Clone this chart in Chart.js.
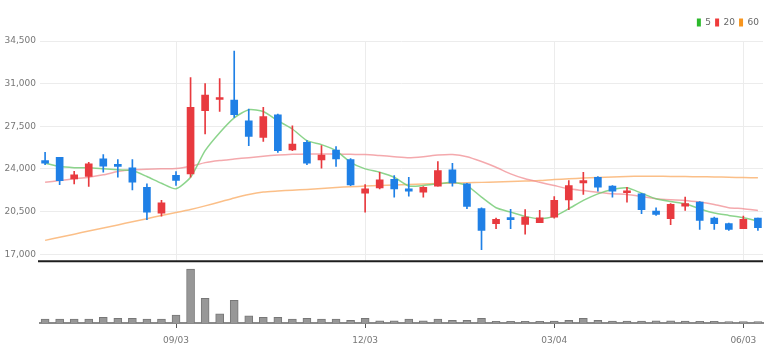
<!DOCTYPE html>
<html>
<head>
<meta charset="utf-8">
<script src="https://cdn.jsdelivr.net/npm/chart.js@4.4.1/dist/chart.umd.min.js"></script>
<style>
  html, body { margin: 0; padding: 0; background: #fff; }
  #wrap { width: 779px; height: 363px; }
</style>
</head>
<body>
<div id="wrap"><canvas id="chart"></canvas></div>
<script>
// WEEKLY CANDLES //
const dates = ['07/02', '07/09', '07/16', '07/23', '07/30', '08/06', '08/13', '08/20', '08/27', '09/03',
  '09/10', '09/17', '09/24', '10/01', '10/08', '10/15', '10/22', '10/29', '11/05', '11/12',
  '11/19', '11/26', '12/03', '12/10', '12/17', '12/24', '12/31', '01/07', '01/14', '01/21',
  '01/28', '02/04', '02/11', '02/18', '02/25', '03/04', '03/11', '03/18', '03/25', '04/01',
  '04/08', '04/15', '04/22', '04/29', '05/06', '05/13', '05/20', '05/27', '06/03', '06/10'];

const opens = [24690, 24960, 23190, 23380, 24830, 24380, 24090, 22500, 20380, 23470,
  23600, 28780, 29700, 29650, 27960, 26590, 28450, 25560, 26180, 24740,
  25560, 24770, 22010, 22450, 23140, 22370, 22100, 22590, 23920, 22780,
  20740, 19510, 19970, 19450, 19590, 20050, 21470, 22860, 23320, 22590,
  22050, 21960, 20540, 19920, 20950, 21280, 19970, 19510, 19100, 19970];
const highs = [25370, 24960, 23810, 24550, 25180, 24770, 24770, 22780, 21420, 23790,
  31500, 31010, 31420, 33680, 28920, 29050, 28500, 27550, 26320, 25910,
  25830, 24850, 22720, 23730, 23460, 23320, 22560, 24610, 24470, 22830,
  20820, 19970, 20680, 20660, 20600, 21740, 23050, 23730, 23370, 22640,
  22500, 22010, 20820, 21150, 21690, 21330, 20050, 19560, 20130, 19970];
const lows = [24360, 22720, 22780, 22560, 23730, 23320, 22290, 19840, 20130, 22640,
  23320, 26870, 28720, 28230, 25910, 26270, 25350, 25500, 24360, 24060,
  24200, 22620, 20460, 22370, 21690, 21770, 21690, 22590, 22590, 20740,
  17380, 19100, 19100, 18640, 19590, 19970, 20660, 21910, 22180, 21690,
  21280, 20330, 20190, 19430, 20600, 19040, 19040, 18960, 19100, 18960];
const closes = [24470, 23050, 23520, 24420, 24220, 24200, 22910, 20460, 21230, 23060,
  29050, 30060, 29820, 28450, 26670, 28290, 25500, 26050, 24470, 25150,
  24830, 22700, 22370, 23110, 22370, 22180, 22500, 23870, 22860, 20930,
  18960, 19860, 19840, 20050, 20000, 21420, 22640, 23050, 22500, 22180,
  22150, 20660, 20270, 21090, 21150, 19780, 19510, 19040, 19860, 19180];
const volumes = [200000, 200000, 200000, 200000, 285000, 235000, 235000, 200000, 200000, 400000,
  2700000, 1235000, 465000, 1135000, 365000, 285000, 285000, 200000, 235000, 200000,
  200000, 135000, 235000, 115000, 115000, 200000, 115000, 200000, 135000, 135000,
  235000, 85000, 85000, 85000, 85000, 100000, 135000, 235000, 135000, 100000,
  100000, 100000, 115000, 115000, 100000, 85000, 85000, 65000, 65000, 65000];

// MOVING AVERAGES //
const ma5 = [24470, 24200, 24110, 24090, 24010, 23930, 23870, 23380, 22830, 22370,
  23320, 25500, 26980, 28200, 28860, 28720, 27960, 27280, 26320, 26000,
  25500, 24550, 24010, 23730, 23320, 22600, 22640, 22780, 22910, 22640,
  21690, 20820, 20460, 20110, 19920, 20110, 20740, 21420, 21960, 22320,
  22450, 22010, 21550, 21330, 21150, 20740, 20380, 20190, 20000, 19720];
const ma20 = [22910, 23050, 23190, 23320, 23520, 23790, 23930, 23980, 24010, 24030,
  24220, 24520, 24690, 24810, 24930, 25050, 25140, 25200, 25230, 25230,
  25230, 25200, 25180, 25100, 25010, 24930, 25010, 25140, 25180, 25010,
  24610, 24140, 23600, 23190, 22910, 22640, 22370, 22230, 22090, 21960,
  21910, 21740, 21550, 21470, 21420, 21280, 21090, 20820, 20740, 20600];
const ma60 = [18140, 18400, 18650, 18910, 19160, 19410, 19670, 19920, 20190, 20430,
  20680, 20970, 21290, 21620, 21910, 22110, 22190, 22260, 22320, 22400,
  22480, 22540, 22600, 22640, 22680, 22720, 22770, 22810, 22830, 22870,
  22900, 22930, 22970, 23010, 23050, 23130, 23190, 23260, 23300, 23350,
  23390, 23400, 23400, 23390, 23380, 23360, 23350, 23320, 23300, 23270];

const priceTicks = [17000, 20500, 24000, 27500, 31000, 34500];
const xTickLabels = ['09/03', '12/03', '03/04', '06/03'];
const maNames = ['5', '20', '60'];

const UP = '#e83a3f';
const DOWN = '#1f80e6';
const FONT = '"DejaVu Sans", sans-serif';
const TICK_FONT = {family: FONT, size: 9, style: 'condensed'};

const candleColors = opens.map((o, i) => (closes[i] >= o) ? UP : DOWN);
const idx = dates.map((d, i) => i);

// PRICE AREA GRID + SEPARATOR //
const panelPlugin = {
  id: 'panels',
  beforeDatasetsDraw(chart) {
    const {ctx, chartArea, scales} = chart;
    ctx.save();
    ctx.strokeStyle = '#ececec';
    ctx.lineWidth = 1;
    scales.x.ticks.forEach(t => {
      const px = Math.round(scales.x.getPixelForValue(t.value)) + 0.5;
      ctx.beginPath();
      ctx.moveTo(px, scales.y.getPixelForValue(priceTicks[priceTicks.length - 1]));
      ctx.lineTo(px, scales.y.bottom);
      ctx.stroke();
    });
    ctx.restore();
  },
  afterDatasetsDraw(chart) {
    const {ctx, chartArea, scales} = chart;
    ctx.save();
    ctx.strokeStyle = '#1e1e1e';
    ctx.lineWidth = 2;
    ctx.beginPath();
    ctx.moveTo(chartArea.left - 2, scales.y.bottom);
    ctx.lineTo(chartArea.right, scales.y.bottom);
    ctx.stroke();
    ctx.restore();
  }
};

const maLine = (values, color, legendColor, name) => ({
  type: 'line',
  label: name,
  legendColor: legendColor,
  data: values.map((v, i) => ({x: i, y: v})),
  yAxisID: 'y',
  borderColor: color,
  backgroundColor: legendColor,
  borderWidth: 1.5,
  pointRadius: 0,
  tension: 0.2,
  order: 2
});

new Chart(document.getElementById('chart'), {
  data: {
    datasets: [
      maLine(ma5, 'rgba(120,205,120,0.85)', '#2cb92c', maNames[0]),
      maLine(ma20, 'rgba(240,140,145,0.75)', '#ef3b3b', maNames[1]),
      maLine(ma60, 'rgba(250,180,115,0.85)', '#f7951e', maNames[2]),
      {
        type: 'bar',
        label: 'wick',
        data: idx.map(i => ({x: i, y: [lows[i], highs[i]]})),
        yAxisID: 'y',
        backgroundColor: candleColors,
        barThickness: 1,
        grouped: false,
        order: 1
      },
      {
        type: 'bar',
        label: 'body',
        data: idx.map(i => ({x: i, y: [opens[i], closes[i]]})),
        yAxisID: 'y',
        backgroundColor: candleColors,
        barThickness: 7,
        minBarLength: 2,
        grouped: false,
        order: 0
      },
      {
        type: 'bar',
        label: 'volume',
        data: idx.map(i => ({x: i, y: volumes[i]})),
        yAxisID: 'yVol',
        backgroundColor: '#979797',
        borderColor: '#777',
        borderWidth: 1,
        barThickness: 8,
        grouped: false,
        order: 3
      }
    ]
  },
  options: {
    responsive: true,
    maintainAspectRatio: false,
    animation: false,
    layout: {padding: {top: 14, right: 16, bottom: 0, left: 0}},
    plugins: {
      tooltip: {enabled: false},
      legend: {
        position: 'top',
        align: 'end',
        labels: {
          boxWidth: 4,
          boxHeight: 8,
          padding: 4,
          color: '#666',
          font: TICK_FONT,
          generateLabels: (chart) => chart.data.datasets
            .map((ds, i) => ({ds, i}))
            .filter(o => o.ds.legendColor)
            .map(o => ({
              text: o.ds.label,
              fillStyle: o.ds.legendColor,
              strokeStyle: o.ds.legendColor,
              lineWidth: 0,
              datasetIndex: o.i,
              fontColor: '#666'
            }))
        }
      }
    },
    scales: {
      x: {
        type: 'linear',
        offset: false,
        min: -0.35,
        max: dates.length - 0.65,
        afterBuildTicks: (scale) => {
          scale.ticks = xTickLabels.map(l => ({value: dates.indexOf(l)}));
        },
        afterFit: (scale) => { scale.height = 40; },
        grid: {offset: false, drawOnChartArea: false, drawTicks: true, tickLength: 5, color: '#555'},
        border: {display: true, color: '#8a8a8a', width: 2},
        ticks: {
          color: '#777',
          padding: 7,
          maxRotation: 0,
          font: TICK_FONT,
          callback: (v) => dates[v]
        }
      },
      yVol: {
        type: 'linear',
        position: 'left',
        stack: 'panels',
        stackWeight: 62,
        min: 0,
        max: 3100000,
        afterFit: (scale) => { scale.width = 40; },
        grid: {display: false},
        border: {display: false},
        ticks: {display: false}
      },
      y: {
        type: 'linear',
        position: 'left',
        stack: 'panels',
        stackWeight: 225,
        min: 16430,
        max: 34830,
        afterBuildTicks: (scale) => {
          scale.ticks = priceTicks.map(v => ({value: v}));
        },
        afterFit: (scale) => { scale.width = 40; },
        grid: {color: '#ececec', drawTicks: false},
        border: {display: false},
        ticks: {
          color: '#777',
          padding: 4,
          font: TICK_FONT,
          callback: (v) => v.toLocaleString('en-US')
        }
      }
    }
  },
  plugins: [panelPlugin]
});
</script>
</body>
</html>
